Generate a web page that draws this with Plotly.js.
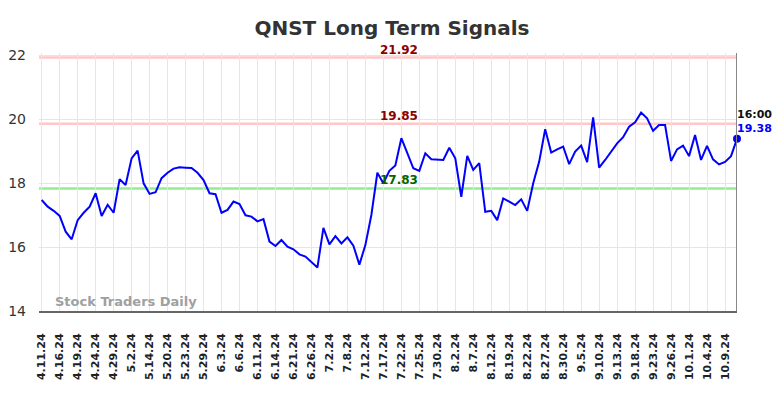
<!DOCTYPE html>
<html><head><meta charset="utf-8">
<script src="https://cdn.plot.ly/plotly-3.0.1.min.js"></script>
<style>html,body{margin:0;padding:0;background:#fff;} #chart{width:784px;height:398px;}</style>
</head><body><div id="chart"></div>
<script>
const tickLabels = ["4.11.24","4.16.24","4.19.24","4.24.24","4.29.24","5.2.24","5.14.24","5.20.24","5.23.24","5.29.24","6.3.24","6.6.24","6.11.24","6.14.24","6.21.24","6.26.24","7.2.24","7.8.24","7.12.24","7.17.24","7.22.24","7.25.24","7.30.24","8.2.24","8.7.24","8.12.24","8.19.24","8.22.24","8.27.24","8.30.24","9.5.24","9.10.24","9.13.24","9.18.24","9.23.24","9.26.24","10.1.24","10.4.24","10.9.24"];
const pointsPerTick = 3;
const prices = [17.47,17.26,17.13,16.97,16.48,16.24,16.84,17.07,17.26,17.68,
16.97,17.32,17.07,18.12,17.94,18.77,19.01,17.99,17.66,17.71,
18.15,18.32,18.45,18.49,18.48,18.47,18.32,18.09,17.68,17.65,
17.07,17.16,17.42,17.34,16.99,16.95,16.80,16.87,16.17,16.03,
16.22,16.01,15.93,15.77,15.70,15.52,15.36,16.60,16.08,16.34,
16.11,16.30,16.04,15.45,16.06,17.00,18.32,17.99,18.38,18.55,
19.40,18.93,18.46,18.38,18.93,18.74,18.72,18.72,19.10,18.77,
17.57,18.85,18.41,18.62,17.10,17.13,16.84,17.52,17.42,17.31,
17.49,17.13,17.99,18.67,19.68,18.95,19.05,19.14,18.59,18.98,
19.17,18.65,20.05,18.48,18.72,18.98,19.24,19.43,19.76,19.90,
20.20,20.02,19.63,19.81,19.81,18.69,19.05,19.17,18.84,19.50,
18.72,19.16,18.74,18.58,18.66,18.84,19.38];
const levelValues = [21.92, 19.85, 17.83];
const levelLineColors = ["rgba(255,180,180,0.75)", "rgba(255,180,180,0.75)", "rgba(120,230,120,0.8)"];
const levelTextColors = ["#8b0000", "#8b0000", "#006400"];
const lastTime = "16:00";
const watermark = "Stock Traders Daily";

const xs = prices.map((_, i) => i);
const tickVals = tickLabels.map((_, i) => i * pointsPerTick);
const lastX = xs[xs.length - 1];
const lastY = prices[prices.length - 1];
const F = "DejaVu Sans, sans-serif";

const traces = [
  {x: xs, y: prices, type: "scatter", mode: "lines", line: {color: "#0000ff", width: 2}, hoverinfo: "skip"},
  {x: [lastX], y: [lastY], type: "scatter", mode: "markers", cliponaxis: false,
   marker: {color: "#0000ff", size: 8}, hoverinfo: "skip"}
];

const shapes = levelValues.map((v, k) => ({
  type: "line", xref: "paper", x0: 0, x1: 1, yref: "y", y0: v, y1: v,
  line: {color: levelLineColors[k], width: 2.5}, layer: "below"
}));
shapes.push({type: "line", xref: "x", x0: lastX, x1: lastX, yref: "paper", y0: 0, y1: 1,
  line: {color: "#888", width: 2}});

const annotations = levelValues.map((v, k) => ({
  xref: "paper", x: 0.516, yref: "y", y: v, yshift: 8, showarrow: false,
  text: "<b>" + v.toFixed(2) + "</b>", font: {family: F, size: 12, color: levelTextColors[k]}
}));
annotations.push({xref: "x", x: lastX, yref: "y", y: lastY, xanchor: "left", xshift: -2, yshift: 24,
  showarrow: false, text: "<b>" + lastTime + "</b>", font: {family: F, size: 11, color: "#111"}});
annotations.push({xref: "x", x: lastX, yref: "y", y: lastY, xanchor: "left", xshift: -2, yshift: 10,
  showarrow: false, text: "<b>" + lastY.toFixed(2) + "</b>", font: {family: F, size: 11, color: "#0000ff"}});
annotations.push({xref: "paper", x: 0.1247, xanchor: "center", yref: "paper", y: 0.035, yanchor: "middle",
  showarrow: false, text: "<b>" + watermark + "</b>", font: {family: F, size: 13, color: "#a0a0a0"}});

const layout = {
  width: 784, height: 398,
  margin: {l: 39, r: 47, t: 53, b: 87, pad: 0},
  paper_bgcolor: "#fff", plot_bgcolor: "#fff",
  showlegend: false,
  title: {text: "<b>QNST Long Term Signals</b>", x: 0.5, xanchor: "center", y: 0.93, yanchor: "middle",
    font: {family: F, size: 20, color: "#333"}},
  xaxis: {
    range: [-0.45, lastX], tickmode: "array", tickvals: tickVals,
    ticktext: tickLabels.map(t => "<b>" + t + "</b>"), tickangle: -90,
    tickfont: {family: F, size: 11, color: "#222"},
    showgrid: true, gridcolor: "#e6e6e6", gridwidth: 1,
    showline: true, linecolor: "#666", linewidth: 2,
    ticks: "", ticklabelstandoff: 16, zeroline: false, fixedrange: true
  },
  yaxis: {
    range: [14, 22.0625], tickvals: [14, 16, 18, 20, 22],
    tickfont: {family: F, size: 14, color: "#333"},
    showgrid: true, gridcolor: "#e6e6e6", gridwidth: 1,
    showline: false, zeroline: false, ticks: "", ticklabelstandoff: 12, fixedrange: true
  },
  shapes: shapes,
  annotations: annotations
};

Plotly.newPlot("chart", traces, layout, {displayModeBar: false, staticPlot: true});
</script>
</body></html>
